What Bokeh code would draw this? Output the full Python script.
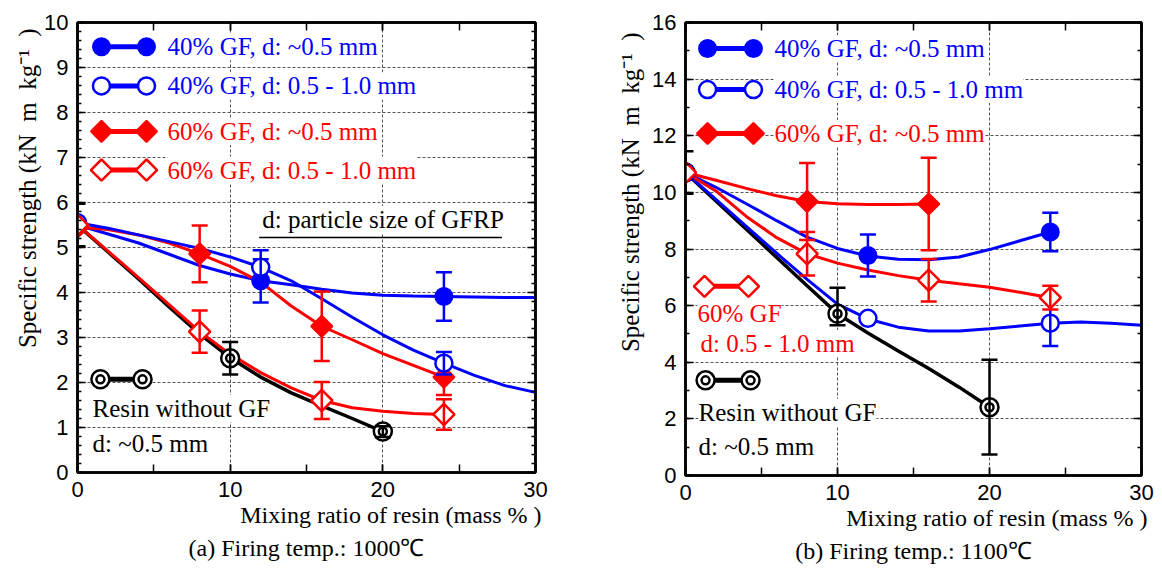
from math import pi

from bokeh.plotting import figure
from bokeh.layouts import row
from bokeh.models import (Range1d, SingleIntervalTicker, LinearAxis, Grid, Label,
                          Title, CustomJSTickFormatter)
from bokeh.embed import file_html
from bokeh.resources import INLINE

BLUE, RED, BLACK = "#0000ff", "#ff0000", "#000000"
SERIF, SANS = "Liberation Serif", "Liberation Sans"

# ---------------------------------------------------------------------------
# (a) firing temperature 1000 C
# measured points: mixing ratio of resin (mass %), specific strength, error half-width
A_40S_X = [0, 12, 24]
A_40S_Y = [5.50, 4.26, 3.91]
A_40S_E = [0, 0.48, 0.54]

A_40L_X = [0, 12, 24]
A_40L_Y = [5.55, 4.56, 2.43]
A_40L_E = [0, 0.38, 0.25]

A_60S_X = [0, 8, 16, 24]
A_60S_Y = [5.45, 4.86, 3.25, 2.12]
A_60S_E = [0, 0.63, 0.77, 0.40]

A_60L_X = [0, 8, 16, 24]
A_60L_Y = [5.50, 3.13, 1.60, 1.29]
A_60L_E = [0, 0.47, 0.41, 0.34]

A_RES_X = [0, 10, 20]
A_RES_Y = [5.50, 2.54, 0.91]
A_RES_E = [0.47, 0.36, 0.12]

# fitted curves
A_40S_CX = [0, 2, 4, 6, 8, 10, 12, 14, 16, 18, 20, 22, 24, 26, 28, 30]
A_40S_CY = [5.50, 5.30, 5.10, 4.85, 4.60, 4.41, 4.26, 4.17, 4.07, 3.99, 3.94, 3.92, 3.91, 3.90, 3.89, 3.89]
A_40L_CX = [0, 2, 4, 6, 8, 10, 12, 14, 16, 18, 20, 22, 24, 26, 28, 30]
A_40L_CY = [5.55, 5.43, 5.28, 5.13, 4.98, 4.79, 4.56, 4.26, 3.86, 3.45, 3.06, 2.72, 2.43, 2.16, 1.93, 1.78]
A_60S_CX = [0, 2, 4, 6, 8, 10, 12, 14, 16, 18, 20, 22, 24]
A_60S_CY = [5.45, 5.40, 5.28, 5.10, 4.86, 4.58, 4.23, 3.70, 3.25, 2.95, 2.64, 2.38, 2.12]
A_60L_CX = [0, 2, 4, 6, 8, 10, 12, 14, 16, 18, 20, 22, 24]
A_60L_CY = [5.50, 4.92, 4.33, 3.73, 3.13, 2.63, 2.22, 1.88, 1.60, 1.44, 1.36, 1.31, 1.29]
A_RES_CX = [0, 2, 4, 6, 8, 10, 12, 14, 16, 18, 20]
A_RES_CY = [5.50, 4.90, 4.30, 3.68, 3.08, 2.55, 2.12, 1.77, 1.48, 1.20, 0.91]

# ---------------------------------------------------------------------------
# (b) firing temperature 1100 C
B_40S_X = [0, 12, 24]
B_40S_Y = [10.70, 7.77, 8.60]
B_40S_E = [0, 0.74, 0.68]

B_40L_X = [0, 12, 24]
B_40L_Y = [10.70, 5.55, 5.38]
B_40L_E = [0, 0, 0.81]

B_60S_X = [0, 8, 16]
B_60S_Y = [10.70, 9.68, 9.59]
B_60S_E = [0, 1.36, 1.63]

B_60L_X = [0, 8, 16, 24]
B_60L_Y = [10.70, 7.83, 6.90, 6.28]
B_60L_E = [0, 0.77, 0.75, 0.42]

B_RES_X = [0, 10, 20]
B_RES_Y = [10.70, 5.71, 2.41]
B_RES_ELO = [0.75, 0.40, 1.67]
B_RES_EHI = [0.75, 0.92, 1.68]

B_40S_CX = [0, 2, 4, 6, 8, 10, 12, 14, 16, 18, 20, 22, 24]
B_40S_CY = [10.70, 10.18, 9.60, 9.00, 8.42, 8.02, 7.75, 7.64, 7.62, 7.72, 7.98, 8.29, 8.60]
B_40L_CX = [0, 2, 4, 6, 8, 10, 12, 14, 16, 18, 20, 22, 24, 26, 28, 30]
B_40L_CY = [10.70, 9.75, 8.80, 7.85, 6.93, 6.05, 5.53, 5.24, 5.10, 5.10, 5.18, 5.28, 5.38, 5.42, 5.38, 5.31]
B_60S_CX = [0, 2, 4, 6, 8, 10, 12, 14, 16]
B_60S_CY = [10.70, 10.43, 10.14, 9.88, 9.68, 9.60, 9.57, 9.57, 9.59]
B_60L_CX = [0, 2, 4, 6, 8, 10, 12, 14, 16, 18, 20, 22, 24]
B_60L_CY = [10.70, 10.05, 9.15, 8.40, 7.83, 7.50, 7.26, 7.06, 6.90, 6.77, 6.65, 6.47, 6.28]
B_RES_CX = [0, 2, 4, 6, 8, 10, 12, 14, 16, 18, 20]
B_RES_CY = [10.70, 9.70, 8.70, 7.70, 6.70, 5.71, 5.03, 4.40, 3.78, 3.12, 2.41]

# legend and axis wording
LBL_40S = "40% GF, d: ~0.5 mm"
LBL_40L = "40% GF, d: 0.5 - 1.0 mm"
LBL_60S = "60% GF, d: ~0.5 mm"
LBL_60L = "60% GF, d: 0.5 - 1.0 mm"
LBL_RES = ["Resin without GF", "d: ~0.5 mm"]
Y_TITLE = "Specific strength (kN\u2002m\u2002kg\u207b\u00b9\u2002)"
X_TITLE = "Mixing ratio of resin (mass % )"


def base_figure(ymax, ystep, yminor, fw, fh, bl, br, bt, bb):
    p = figure(x_range=Range1d(0, 30), y_range=Range1d(0, ymax),
               frame_width=fw, frame_height=fh,
               min_border_left=bl, min_border_right=br,
               min_border_top=bt, min_border_bottom=bb,
               x_axis_type=None, y_axis_type=None,
               output_backend="svg", toolbar_location=None)
    p.background_fill_color = "white"
    p.border_fill_color = "white"
    p.outline_line_color = BLACK
    p.outline_line_width = 2.5

    xt = SingleIntervalTicker(interval=10, num_minor_ticks=2)
    yt = SingleIntervalTicker(interval=ystep, num_minor_ticks=yminor)

    def style(ax, labels, minor_len):
        ax.axis_line_width = 2.5
        ax.axis_line_color = BLACK
        ax.major_tick_in = 8
        ax.major_tick_out = 0
        ax.minor_tick_in = minor_len
        ax.minor_tick_out = 0
        ax.major_tick_line_width = 1.5
        ax.minor_tick_line_width = 1.5
        ax.major_tick_line_color = BLACK
        ax.minor_tick_line_color = BLACK
        if labels:
            ax.major_label_text_font = SANS
            ax.major_label_text_font_size = "22px"
            ax.major_label_text_color = BLACK
            ax.major_label_standoff = 9
        else:
            # mirrored axis: ticks only
            ax.formatter = CustomJSTickFormatter(code="return ''")
            ax.major_label_standoff = 0

    for loc, show in (("below", True), ("above", False)):
        ax = LinearAxis(ticker=xt)
        style(ax, show, 8)
        p.add_layout(ax, loc)
    for loc, show in (("left", True), ("right", False)):
        ax = LinearAxis(ticker=yt)
        style(ax, show, 4)
        p.add_layout(ax, loc)

    for dim, t in ((0, xt), (1, yt)):
        g = Grid(dimension=dim, ticker=t)
        g.grid_line_color = "#555555"
        g.grid_line_dash = "3 2"
        g.grid_line_width = 1
        p.add_layout(g)
    return p


def titles(p, caption, y_offset, y_standoff):
    p.add_layout(Title(text=Y_TITLE, align="right", offset=y_offset, standoff=y_standoff,
                       text_font=SERIF, text_font_size="25px", text_font_style="normal",
                       text_color=BLACK), "left")
    p.add_layout(Title(text=X_TITLE, align="right", offset=-6, standoff=0,
                       text_font=SERIF, text_font_size="24px", text_font_style="normal",
                       text_color=BLACK), "below")
    p.add_layout(Title(text=caption, align="center", vertical_align="bottom",
                       text_line_height=1.5,
                       text_font=SERIF, text_font_size="24px", text_font_style="normal",
                       text_color=BLACK), "below")


def markers(p, xs, ys, color, kind):
    if kind == "dot":
        p.scatter(xs, ys, marker="circle", size=17, fill_color=color,
                  line_color=color, line_width=2)
    elif kind == "ring":
        p.scatter(xs, ys, marker="circle", size=17, fill_color="white",
                  line_color=color, line_width=2.5)
    elif kind == "gem":
        p.scatter(xs, ys, marker="square", angle=pi / 4, size=15,
                  fill_color=color, line_color=color, line_width=2)
    elif kind == "gem_open":
        p.scatter(xs, ys, marker="square", angle=pi / 4, size=15,
                  fill_color="white", line_color=color, line_width=2.5)
    elif kind == "double":
        p.scatter(xs, ys, marker="circle", size=18, fill_color="white",
                  line_color=color, line_width=2.5)
        p.scatter(xs, ys, marker="circle", size=8, fill_color="white",
                  line_color=color, line_width=2.5)


def points(p, xs, ys, elo, ehi, color, kind):
    markers(p, xs, ys, color, kind)
    bx, lo, hi = [], [], []
    for x, y, a, b in zip(xs, ys, elo, ehi):
        if a > 0 or b > 0:
            bx.append(x)
            lo.append(y - a)
            hi.append(y + b)
    if bx:
        p.segment(x0=bx, y0=lo, x1=bx, y1=hi, line_color=color, line_width=2.5)
        p.scatter(bx + bx, lo + hi, marker="dash", size=16,
                  line_color=color, line_width=2.5)


def legend_key(p, kx, ky, color, kind):
    p.line(kx, [ky, ky], line_color=color, line_width=5)
    markers(p, kx, [ky, ky], color, kind)


def text(p, x, y, s, color=BLACK):
    p.add_layout(Label(x=x, y=y, text=s, text_color=color, text_font=SERIF,
                       text_font_size="25px", text_align="left",
                       text_baseline="middle", background_fill_color="white"))


# ---------------------------------------------------------------------------
pa = base_figure(10, 1, 5, 458, 450, 77, 46, 22, 100)

for cx, cy, col, w in ((A_RES_CX, A_RES_CY, BLACK, 3.5),
                       (A_40S_CX, A_40S_CY, BLUE, 3),
                       (A_60S_CX, A_60S_CY, RED, 3),
                       (A_40L_CX, A_40L_CY, BLUE, 3),
                       (A_60L_CX, A_60L_CY, RED, 3)):
    pa.line(cx, cy, line_color=col, line_width=w)

points(pa, A_RES_X, A_RES_Y, A_RES_E, A_RES_E, BLACK, "double")
points(pa, A_40S_X, A_40S_Y, A_40S_E, A_40S_E, BLUE, "dot")
points(pa, A_60S_X, A_60S_Y, A_60S_E, A_60S_E, RED, "gem")
points(pa, A_40L_X, A_40L_Y, A_40L_E, A_40L_E, BLUE, "ring")
points(pa, A_60L_X, A_60L_Y, A_60L_E, A_60L_E, RED, "gem_open")

A_KEY_X = [1.57, 4.52]
for ky, col, kind, lbl in ((9.46, BLUE, "dot", LBL_40S),
                           (8.59, BLUE, "ring", LBL_40L),
                           (7.58, RED, "gem", LBL_60S),
                           (6.72, RED, "gem_open", LBL_60L)):
    legend_key(pa, A_KEY_X, ky, col, kind)
    text(pa, 5.9, ky, lbl, col)

text(pa, 12.1, 5.62, "d: particle size of GFRP")
pa.line([11.9, 27.8], [5.22, 5.22], line_color=BLACK, line_width=1.5)

legend_key(pa, [1.5, 4.26], 2.07, BLACK, "double")
text(pa, 0.98, 1.42, LBL_RES[0])
text(pa, 0.98, 0.64, LBL_RES[1])

titles(pa, "(a) Firing temp.: 1000\u2103", 6, 1)

# ---------------------------------------------------------------------------
pb = base_figure(16, 2, 2, 456, 453, 104, 21, 22, 97)

for cx, cy, col, w in ((B_RES_CX, B_RES_CY, BLACK, 3.5),
                       (B_40S_CX, B_40S_CY, BLUE, 3),
                       (B_60S_CX, B_60S_CY, RED, 3),
                       (B_40L_CX, B_40L_CY, BLUE, 3),
                       (B_60L_CX, B_60L_CY, RED, 3)):
    pb.line(cx, cy, line_color=col, line_width=w)

points(pb, B_RES_X, B_RES_Y, B_RES_ELO, B_RES_EHI, BLACK, "double")
points(pb, B_40S_X, B_40S_Y, B_40S_E, B_40S_E, BLUE, "dot")
points(pb, B_60S_X, B_60S_Y, B_60S_E, B_60S_E, RED, "gem")
points(pb, B_40L_X, B_40L_Y, B_40L_E, B_40L_E, BLUE, "ring")
points(pb, B_60L_X, B_60L_Y, B_60L_E, B_60L_E, RED, "gem_open")

B_KEY_X = [1.45, 4.47]
for ky, col, kind, lbl in ((15.08, BLUE, "dot", LBL_40S),
                           (13.63, BLUE, "ring", LBL_40L),
                           (12.08, RED, "gem", LBL_60S)):
    legend_key(pb, B_KEY_X, ky, col, kind)
    text(pb, 5.86, ky, lbl, col)

legend_key(pb, [1.25, 4.14], 6.68, RED, "gem_open")
text(pb, 0.79, 5.72, "60% GF", RED)
text(pb, 0.99, 4.66, "d: 0.5 - 1.0 mm", RED)

legend_key(pb, [1.32, 4.28], 3.36, BLACK, "double")
text(pb, 0.86, 2.23, LBL_RES[0])
text(pb, 0.86, 1.02, LBL_RES[1])

titles(pb, "(b) Firing temp.: 1100\u2103", 10, 12)

layout = row(pa, pb)
open("out.html", "w").write(file_html(layout, INLINE))
